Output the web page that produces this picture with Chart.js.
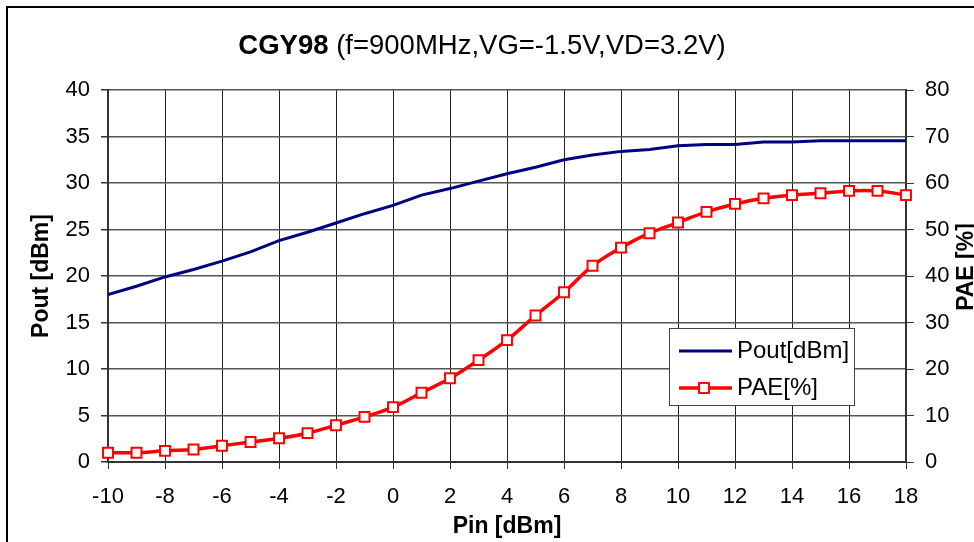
<!DOCTYPE html>
<html lang="en">
<head>
  <meta charset="UTF-8" />
  <title>CGY98 Pout / PAE</title>
  <script src="https://cdn.jsdelivr.net/npm/chart.js@4.4.1/dist/chart.umd.min.js"></script>
  <style>
    html, body { margin: 0; padding: 0; background: #fff; overflow: hidden; }
    #wrap { position: relative; width: 974px; height: 542px; }
    #frame { position: absolute; left: 6px; top: 6px; width: 1000px; height: 600px;
             border-left: 2px solid #000; border-top: 2px solid #000; }
    #chart { position: absolute; left: 0; top: 0; }
  </style>
</head>
<body>
  <div id="wrap">
    <div id="frame"></div>
    <canvas id="chart" width="974" height="542"></canvas>
  </div>

  <script>
    // data
    const pin = [-10, -9, -8, -7, -6, -5, -4, -3, -2, -1, 0, 1, 2, 3, 4, 5, 6, 7, 8, 9, 10, 11, 12, 13, 14, 15, 16, 17, 18];
    const pout = [18.0, 18.9, 19.9, 20.7, 21.6, 22.6, 23.8, 24.7, 25.7, 26.7, 27.6, 28.7, 29.4, 30.2, 31.0,
                  31.7, 32.5, 33.0, 33.4, 33.6, 34.0, 34.15, 34.15, 34.4, 34.4, 34.55, 34.55, 34.55, 34.55];
    const pae = [2.0, 2.0, 2.4, 2.7, 3.5, 4.3, 5.1, 6.2, 7.9, 9.7, 11.8, 14.9, 18.0, 21.9, 26.2,
                 31.5, 36.5, 42.2, 46.1, 49.2, 51.5, 53.8, 55.5, 56.7, 57.4, 57.8, 58.3, 58.3, 57.4];
    const seriesNames = ["Pout[dBm]", "PAE[%]"];
    const titleBold = "CGY98";
    const titleRest = " (f=900MHz,VG=-1.5V,VD=3.2V)";

    const FONT = '"Liberation Sans", Arial, sans-serif';
    Chart.defaults.font.family = FONT;
    Chart.defaults.color = "#000";

    // mixed bold/normal title, right axis title (bottom-to-top) and boxed legend
    const extras = {
      id: "extras",
      afterDraw(chart) {
        const ctx = chart.ctx;
        ctx.save();
        ctx.fillStyle = "#000";
        ctx.textBaseline = "middle";

        ctx.font = "bold 27.5px " + FONT;
        const w1 = ctx.measureText(titleBold).width;
        ctx.font = "27.5px " + FONT;
        const w2 = ctx.measureText(titleRest).width;
        let x = 482 - (w1 + w2) / 2;
        ctx.textAlign = "left";
        ctx.font = "bold 27.5px " + FONT;
        ctx.fillText(titleBold, x, 46);
        ctx.font = "27.5px " + FONT;
        ctx.fillText(titleRest, x + w1, 46);

        ctx.save();
        ctx.translate(967, 267);
        ctx.rotate(-Math.PI / 2);
        ctx.textAlign = "center";
        ctx.font = "bold 23px " + FONT;
        ctx.fillText("PAE [%]", 0, 0);
        ctx.restore();

        // legend
        ctx.fillStyle = "#fff";
        ctx.fillRect(669, 328, 185, 77);
        ctx.strokeStyle = "#444";
        ctx.lineWidth = 1;
        ctx.strokeRect(669.5, 328.5, 185, 77);
        const rows = [351, 388];
        chart.data.datasets.forEach((ds, i) => {
          const y = rows[i];
          ctx.strokeStyle = ds.borderColor;
          ctx.lineWidth = ds.borderWidth;
          ctx.beginPath();
          ctx.moveTo(679, y);
          ctx.lineTo(732, y);
          ctx.stroke();
          if (ds.pointRadius > 0) {
            ctx.fillStyle = ds.pointBackgroundColor;
            ctx.strokeStyle = ds.pointBorderColor;
            ctx.lineWidth = ds.pointBorderWidth;
            const s = ds.pointRadius * Math.SQRT1_2;
            ctx.fillRect(704 - s, y - s, 2 * s, 2 * s);
            ctx.strokeRect(704 - s, y - s, 2 * s, 2 * s);
          }
          ctx.fillStyle = "#000";
          ctx.font = "24px " + FONT;
          ctx.textAlign = "left";
          ctx.fillText(ds.label, 737, y);
        });
        ctx.restore();
      }
    };

    new Chart(document.getElementById("chart").getContext("2d"), {
      type: "line",
      data: {
        datasets: [
          {
            label: seriesNames[0],
            data: pin.map((p, i) => ({ x: p, y: pout[i] })),
            yAxisID: "y",
            borderColor: "#000080",
            borderWidth: 3,
            pointRadius: 0,
            tension: 0,
          },
          {
            label: seriesNames[1],
            data: pin.map((p, i) => ({ x: p, y: pae[i] })),
            yAxisID: "y1",
            borderColor: "#ff0000",
            borderWidth: 3.5,
            pointStyle: "rect",
            pointRadius: 7,
            pointBackgroundColor: "#ffffff",
            pointBorderColor: "#ff0000",
            pointBorderWidth: 2,
            tension: 0.4,
            clip: false,
          },
        ],
      },
      options: {
        responsive: false,
        animation: false,
        devicePixelRatio: 1,
        layout: { padding: { top: 90, left: 0, right: 0, bottom: 0 } },
        plugins: { legend: { display: false }, tooltip: { enabled: false } },
        scales: {
          x: {
            type: "linear",
            min: -10,
            max: 18,
            ticks: { stepSize: 2, font: { size: 22 }, padding: 15 },
            grid: { color: "#222", lineWidth: 1, tickLength: 7, tickColor: "#333" },
            border: { color: "#333", width: 2 },
            title: { display: true, text: "Pin [dBm]", font: { size: 23, weight: "bold" }, padding: { top: 0, bottom: 2 } },
            afterFit: (s) => { s.height = 80; },
          },
          y: {
            position: "left",
            min: 0,
            max: 40,
            ticks: { stepSize: 5, font: { size: 22 }, padding: 11 },
            grid: { color: "#555", lineWidth: 1.5, tickLength: 7, tickColor: "#333" },
            border: { color: "#333", width: 2 },
            title: { display: true, text: "Pout [dBm]", font: { size: 23, weight: "bold" }, padding: { top: 28, bottom: 0 } },
            afterFit: (s) => { s.width = 108; },
          },
          y1: {
            position: "right",
            min: 0,
            max: 80,
            ticks: { stepSize: 10, font: { size: 22 }, padding: 11 },
            grid: { drawOnChartArea: false, tickLength: 8, tickColor: "#333" },
            border: { color: "#333", width: 2 },
            afterFit: (s) => { s.width = 68; },
          },
        },
      },
      plugins: [extras],
    });
  </script>
</body>
</html>
